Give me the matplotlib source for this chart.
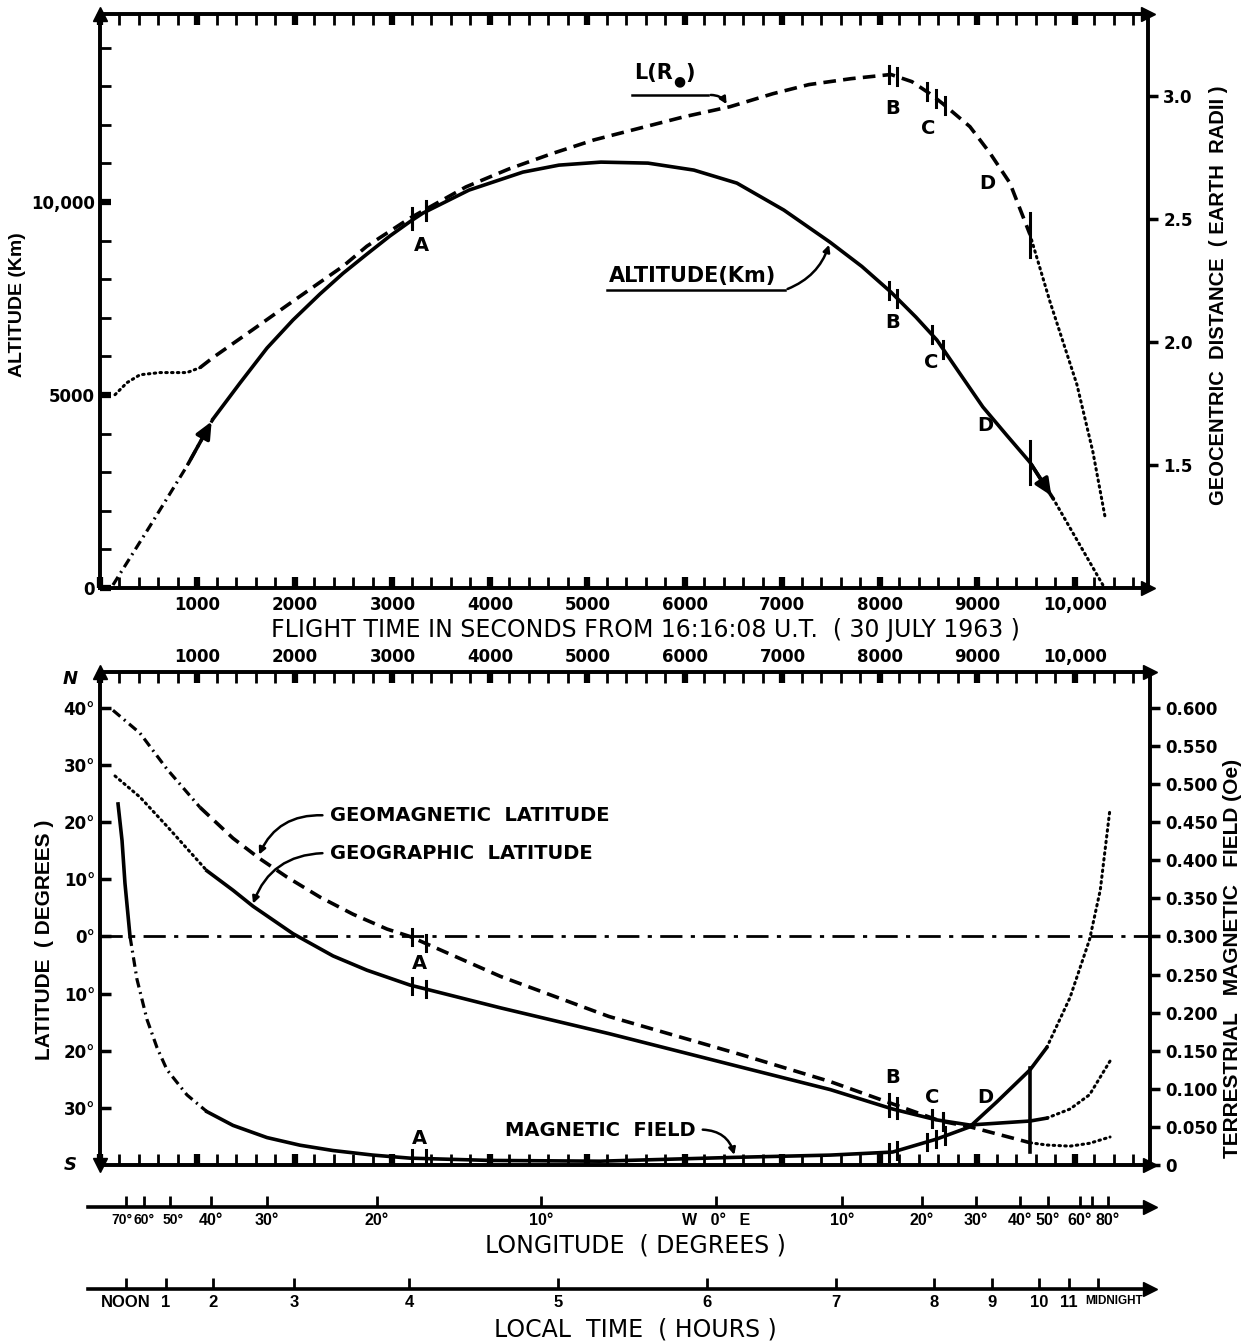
import matplotlib
matplotlib.use("Agg")
import matplotlib.pyplot as plt
import numpy as np
from matplotlib.ticker import MultipleLocator, FixedLocator, FuncFormatter

plt.rcParams['font.family'] = ['DejaVu Sans']
# narrower lettering for the crowded / vertical labels
NARROW = dict(family=['Liberation Sans', 'DejaVu Sans'])

# ---- data (flight time in seconds) ----
# altitude of the trajectory (km)
t_alt = [133, 513, 892, 1159, 1436, 1713, 1979, 2256, 2492, 2738, 2974, 3179, 3313,
         3785, 4338, 4708, 5138, 5621, 6092, 6533, 7015, 7487, 7815, 8113, 8369,
         8585, 8800, 9056, 9300, 9538, 9774, 10051, 10287]
alt_km = [78, 1606, 3160, 4377, 5310, 6216, 6941, 7615, 8150, 8650, 9120, 9490, 9713,
          10308, 10774, 10955, 11033, 11007, 10826, 10489, 9790, 8961, 8330, 7666, 7019,
          6423, 5630, 4690, 3960, 3260, 2330, 1114, 78]

# L value (earth radii)
t_L = [154, 277, 410, 615, 892, 1026, 1159, 1364, 1569, 1918, 2256, 2492, 2738, 3179,
       3754, 4195, 4626, 5067, 5508, 5990, 6462, 6903, 7272, 7703, 8113, 8328, 8513,
       8646, 8923, 9128, 9333, 9538, 9744, 10021, 10185, 10308]
L_re = [1.786, 1.835, 1.867, 1.876, 1.876, 1.896, 1.937, 1.994, 2.051, 2.149, 2.243,
        2.308, 2.390, 2.504, 2.631, 2.704, 2.765, 2.822, 2.867, 2.916, 2.957, 3.010,
        3.047, 3.071, 3.088, 3.059, 3.010, 2.969, 2.876, 2.769, 2.647, 2.439, 2.165,
        1.827, 1.553, 1.292]

# geographic latitude (deg, south negative)
t_geog = [154, 410, 687, 1097, 1364, 1569, 1979, 2390, 2738, 3179, 4110, 5220, 6560,
          7490, 8130, 8580, 8920, 9540, 9710, 9950, 10150, 10360]
lat_geog = [28.1, 24.4, 19.3, 11.5, 8.1, 5.3, 0.5, -3.4, -5.9, -8.5, -12.5, -17.0, -22.8,
            -26.8, -30.2, -32.1, -33.0, -32.3, -31.8, -30.2, -27.7, -21.8]

# geomagnetic latitude (deg)
t_geom = [133, 410, 687, 1026, 1364, 1641, 1918, 2256, 2595, 2944, 3179, 4110, 5220,
          6560, 7490, 8130, 8620, 8920, 9540, 9710, 9950, 10150, 10360]
lat_geom = [39.6, 35.6, 29.3, 22.6, 17.2, 13.6, 10.4, 6.9, 3.9, 1.3, 0.0, -7.0, -14.0,
            -20.6, -25.4, -29.3, -32.3, -33.3, -36.1, -36.5, -36.7, -36.2, -35.1]

# terrestrial magnetic field (Oe)
t_field = [185, 226, 256, 308, 379, 482, 585, 687, 892, 1097, 1364, 1713, 2051, 2390,
           2800, 3179, 4000, 5130, 6500, 7490, 8130, 8580, 8920, 9200, 9540, 9710, 9950,
           10150, 10260, 10360]
field_oe = [0.474, 0.426, 0.370, 0.300, 0.244, 0.191, 0.154, 0.125, 0.092, 0.070, 0.052,
            0.036, 0.026, 0.019, 0.013, 0.009, 0.006, 0.005, 0.010, 0.013, 0.017, 0.034,
            0.050, 0.083, 0.125, 0.154, 0.220, 0.296, 0.361, 0.468]

# event marks A, B, C, D
marks_A = [3200, 3340]
marks_B = [8090, 8180]
marks_C2 = [8530, 8650]
marks_C3 = [8480, 8580, 8670]
mark_end = 9540

# auxiliary scales under the lower panel (flight time of each tick)
lon_t = [267, 451, 718, 1138, 1713, 2841, 4523, 6318, 7610, 8431, 8985, 9436,
         9723, 10051, 10174, 10338]
lon_labels = ['70°', '60°', '50°', '40°', '30°', '20°', '10°', 'W   0°   E', '10°', '20°',
              '30°', '40°', '50°', '60°', '', '80°']
lt_t = [267, 677, 1159, 1990, 3169, 4697, 6226, 7549, 8554, 9149, 9631, 9938, 10236]
lt_labels = ['NOON', '1', '2', '3', '4', '5', '6', '7', '8', '9', '10', '11', 'MIDNIGHT']

RE = 6371.0
H_TOP = 14870
LAT_TOP = 46.3

W, H = 1251, 1341
fig = plt.figure(figsize=(W / 100, H / 100), dpi=100)


def box(x0, y0, x1, y1):
    return [x0 / W, 1 - y1 / H, (x1 - x0) / W, (y1 - y0) / H]


SOLID = dict(lw=2.6, ls='-', solid_joinstyle='round')
DASHED = dict(lw=2.6, ls=(0, (3.5, 2.0)))
DOTTED = dict(lw=2.2, ls=(0, (0.5, 1.4)), dash_capstyle='round')
DASHDOT = dict(lw=2.3, ls=(0, (3, 1.5, 0.6, 1.5)))


def piece(ax, t, v, a, b, style):
    t = np.asarray(t)
    v = np.asarray(v)
    m = (t >= a) & (t <= b)
    ax.plot(t[m], v[m], color='k', **style)


def marks(ax, ts, tc, vc, half, lw=2.2):
    for t in ts:
        v = np.interp(t, tc, vc)
        ax.plot([t, t], [v - half, v + half], color='k', lw=lw)


def arrowhead(ax, x, y, m):
    ax.plot([x], [y], marker=m, ms=10, color='k', transform=ax.transAxes,
            clip_on=False, zorder=10)


def time_ticks(ax):
    ax.xaxis.set_major_locator(MultipleLocator(1000))
    ax.xaxis.set_minor_locator(MultipleLocator(200))
    ax.tick_params(axis='x', which='major', direction='in', length=8, width=4.5)
    ax.tick_params(axis='x', which='minor', direction='in', length=8, width=2)
    ax.xaxis.set_major_formatter(FuncFormatter(
        lambda v, p: '' if v == 0 else ('10,000' if v == 10000 else '%d' % v)))


# ================= upper panel =================
ax1 = fig.add_axes(box(100, 14, 1148, 588))
ax1.set_xlim(0, 10750)
ax1.set_ylim(0, H_TOP)
for s in ax1.spines.values():
    s.set_linewidth(2.6)
time_ticks(ax1)
ax1.tick_params(axis='x', which='both', top=True, bottom=True, pad=6)
ax1.yaxis.set_major_locator(FixedLocator([0, 5000, 10000]))
ax1.yaxis.set_minor_locator(MultipleLocator(1000))
ax1.set_yticklabels(['0', '5000', '10,000'])
ax1.tick_params(axis='y', which='major', direction='in', length=8, width=4.5, left=True, right=False)
ax1.tick_params(axis='y', which='minor', direction='in', length=8, width=2, right=False)
for lab in ax1.get_xticklabels() + ax1.get_yticklabels():
    lab.set_fontweight('bold')
    lab.set_fontsize(12)

piece(ax1, t_alt, alt_km, 0, 1159, DASHDOT)
piece(ax1, t_alt, alt_km, 1159, 9774, SOLID)
piece(ax1, t_alt, alt_km, 9774, 11000, DOTTED)
ax1.annotate('', xy=(t_alt[3], alt_km[3]), xytext=(t_alt[2], alt_km[2]),
             arrowprops=dict(arrowstyle='-|>,head_length=1.0,head_width=0.45', color='k', lw=2.6))
ax1.annotate('', xy=(t_alt[30], alt_km[30]), xytext=(t_alt[29], alt_km[29]),
             arrowprops=dict(arrowstyle='-|>,head_length=1.0,head_width=0.45', color='k', lw=2.6))
marks(ax1, marks_A + marks_B + marks_C2, t_alt, alt_km, 220)
marks(ax1, [mark_end], t_alt, alt_km, 550)

ax2 = ax1.twinx()
ax2.set_ylim(1, 1 + H_TOP / RE)
ax2.set_yticks([1.5, 2.0, 2.5, 3.0])
ax2.set_yticklabels(['1.5', '2.0', '2.5', '3.0'])
ax2.tick_params(axis='y', direction='out', length=7, width=2.5, pad=4)
for lab in ax2.get_yticklabels():
    lab.set_fontweight('bold')
    lab.set_fontsize(12)
for s in ax2.spines.values():
    s.set_linewidth(2.6)
piece(ax2, t_L, L_re, 0, 1026, DOTTED)
piece(ax2, t_L, L_re, 1026, 9538, DASHED)
piece(ax2, t_L, L_re, 9538, 11000, DOTTED)
marks(ax2, marks_A + marks_B + marks_C3, t_L, L_re, 0.035)
marks(ax2, [mark_end], t_L, L_re, 0.09)

arrowhead(ax1, 0, 1, '^')
arrowhead(ax1, 1, 1, '>')
arrowhead(ax1, 1, 0, '>')

txt = dict(fontweight='bold', fontsize=14, ha='center', va='center')
ax1.text(3300, 8880, 'A', **txt)
ax1.text(8130, 12430, 'B', **txt)
ax1.text(8500, 11910, 'C', **txt)
ax1.text(9100, 10490, 'D', **txt)
ax1.text(8130, 6890, 'B', **txt)
ax1.text(8530, 5830, 'C', **txt)
ax1.text(9080, 4220, 'D', **txt)
ax1.text(5880, 13330, 'L(R', fontweight='bold', fontsize=15, ha='right', va='center')
ax1.text(5885, 13130, '\u25CF', fontsize=10, ha='left', va='center')
ax1.text(6000, 13330, ')', fontweight='bold', fontsize=15, ha='left', va='center')
ax1.plot([5456, 6236], [12770, 12770], color='k', lw=1.8)
ax1.annotate('', xy=(6441, 12470), xytext=(6236, 12770),
             arrowprops=dict(arrowstyle='-|>', connectionstyle='arc3,rad=-0.35', color='k', lw=1.8))
ax1.text(6082, 8080, 'ALTITUDE(Km)', fontweight='bold', fontsize=15, ha='center', va='center')
ax1.plot([5200, 7026], [7720, 7720], color='k', lw=1.8)
ax1.annotate('', xy=(7487, 8960), xytext=(7026, 7720),
             arrowprops=dict(arrowstyle='-|>', connectionstyle='arc3,rad=0.25', color='k', lw=1.8))

fig.text(18 / W, 1 - 305 / H, 'ALTITUDE (Km)', rotation=90, ha='center', va='center',
         fontweight='bold', fontsize=14, **NARROW)
fig.text(1218 / W, 1 - 295 / H, 'GEOCENTRIC  DISTANCE  ( EARTH  RADII )', rotation=90,
         ha='center', va='center', fontweight='bold', fontsize=14.5, **NARROW)
fig.text(645 / W, 1 - 630 / H, 'FLIGHT TIME IN SECONDS FROM 16:16:08 U.T.  ( 30 JULY 1963 )',
         ha='center', va='center', fontsize=17)

# ================= lower panel =================
ax3 = fig.add_axes(box(100, 672, 1150, 1165))
ax3.set_xlim(0, 10770)
ax3.set_ylim(-40, LAT_TOP)
for s in ax3.spines.values():
    s.set_linewidth(2.6)
time_ticks(ax3)
ax3.tick_params(axis='x', which='both', top=True, bottom=True, labeltop=True, labelbottom=False, pad=4)
ax3.set_yticks([40, 30, 20, 10, 0, -10, -20, -30])
ax3.set_yticklabels(['40°', '30°', '20°', '10°', '0°', '10°', '20°', '30°'])
ax3.tick_params(axis='y', direction='in', length=8, width=2.5, right=False)
for lab in ax3.get_xticklabels() + ax3.get_yticklabels():
    lab.set_fontweight('bold')
    lab.set_fontsize(12)

ax3.axhline(0, color='k', lw=2.0, ls=(0, (8, 3, 1.5, 3)))
piece(ax3, t_geom, lat_geom, 0, 1026, DASHDOT)
piece(ax3, t_geom, lat_geom, 1026, 9540, DASHED)
piece(ax3, t_geom, lat_geom, 9540, 11000, DOTTED)
piece(ax3, t_geog, lat_geog, 0, 1097, DOTTED)
piece(ax3, t_geog, lat_geog, 1097, 9710, SOLID)
piece(ax3, t_geog, lat_geog, 9710, 11000, DOTTED)
marks(ax3, marks_A + marks_B + marks_C2, t_geom, lat_geom, 1.4)
marks(ax3, marks_A + marks_B + marks_C2, t_geog, lat_geog, 1.4)
ax3.plot([mark_end, mark_end], [-37.8, -23.0], color='k', lw=2.6)

ax4 = ax3.twinx()
ax4.set_ylim(0, 0.3 + 0.0075 * LAT_TOP)
ax4.set_yticks(np.arange(0, 0.601, 0.05))
ax4.yaxis.set_major_formatter(FuncFormatter(lambda v, p: '0' if v < 1e-6 else '%.3f' % v))
ax4.tick_params(axis='y', direction='out', length=7, width=2.5, pad=4)
for lab in ax4.get_yticklabels():
    lab.set_fontweight('bold')
    lab.set_fontsize(12)
for s in ax4.spines.values():
    s.set_linewidth(2.6)
piece(ax4, t_field, field_oe, 0, 308, SOLID)
piece(ax4, t_field, field_oe, 308, 1097, DASHDOT)
piece(ax4, t_field, field_oe, 1097, 9710, SOLID)
piece(ax4, t_field, field_oe, 9710, 11000, DOTTED)
marks(ax4, marks_A + marks_B + marks_C3, t_field, field_oe, 0.011)

arrowhead(ax3, 0, 1, '^')
arrowhead(ax3, 0, 0, 'v')
arrowhead(ax3, 1, 1, '>')
arrowhead(ax3, 1, 0, '>')
ax3.text(-0.028, 0.985, 'N', transform=ax3.transAxes, ha='center', va='center',
         fontsize=13, fontweight='bold', fontstyle='italic')
ax3.text(-0.028, 0.0, 'S', transform=ax3.transAxes, ha='center', va='center',
         fontsize=13, fontweight='bold', fontstyle='italic')

ax3.text(3280, -4.7, 'A', **txt)
ax3.text(3280, -35.4, 'A', **txt)
ax3.text(8130, -24.7, 'B', **txt)
ax3.text(8540, -28.1, 'C', **txt)
ax3.text(9080, -28.1, 'D', **txt)
lab = dict(fontweight='bold', fontsize=14, ha='left', va='center')
ax3.text(2359, 21.2, 'GEOMAGNETIC  LATITUDE', **lab)
ax3.text(2359, 14.6, 'GEOGRAPHIC  LATITUDE', **lab)
ax3.annotate('', xy=(1620, 13.9), xytext=(2310, 21.2),
             arrowprops=dict(arrowstyle='-|>', connectionstyle='arc3,rad=0.35', color='k', lw=1.8))
ax3.annotate('', xy=(1560, 5.3), xytext=(2310, 14.6),
             arrowprops=dict(arrowstyle='-|>', connectionstyle='arc3,rad=0.35', color='k', lw=1.8))
ax3.text(5128, -34.0, 'MAGNETIC  FIELD', fontweight='bold', fontsize=14, ha='center', va='center')
ax3.annotate('', xy=(6513, -38.7), xytext=(6154, -33.8),
             arrowprops=dict(arrowstyle='-|>', connectionstyle='arc3,rad=-0.4', color='k', lw=1.8))

fig.text(45 / W, 1 - 940 / H, 'LATITUDE  ( DEGREES )', rotation=90, ha='center', va='center',
         fontweight='bold', fontsize=15, **NARROW)
fig.text(1232 / W, 1 - 958 / H, 'TERRESTRIAL   MAGNETIC   FIELD (Oe)', rotation=90,
         ha='center', va='center', fontweight='bold', fontsize=15, **NARROW)


# ================= longitude and local time scales =================
def scale_axis(y, ticks, labels, title, ty, size, shifts):
    ax = fig.add_axes(box(88, y, 1150, y + 1))
    ax.set_xlim(-123, 10770)
    ax.set_ylim(0, 1)
    for k in ['top', 'left', 'right']:
        ax.spines[k].set_visible(False)
    ax.spines['bottom'].set_linewidth(2.6)
    ax.set_yticks([])
    ax.set_xticks(ticks)
    ax.set_xticklabels([])
    ax.tick_params(axis='x', direction='in', length=8, width=2)
    for i, (t, s) in enumerate(zip(ticks, labels)):
        dx, fs, ha = shifts.get(i, (0, size, 'center'))
        ax.annotate(s, xy=(t, 0), xycoords=('data', 'axes fraction'), xytext=(dx, -4),
                    textcoords='offset points', ha=ha, va='top', fontweight='bold',
                    fontsize=fs, **NARROW)
    arrowhead(ax, 1, 0, '>')
    fig.text(635 / W, 1 - ty / H, title, ha='center', va='center', fontsize=17)
    return ax


lon_shift = {0: (-3, 10, 'center'), 1: (0, 10, 'center'), 2: (2, 10, 'center')}
lt_shift = {12: (-9, 8.5, 'left')}
ax5 = scale_axis(1206, lon_t, lon_labels, 'LONGITUDE  ( DEGREES )', 1245, 11.5, lon_shift)
ax6 = scale_axis(1288, lt_t, lt_labels, 'LOCAL  TIME  ( HOURS )', 1329, 12, lt_shift)

fig.savefig('out.png', dpi=100)
